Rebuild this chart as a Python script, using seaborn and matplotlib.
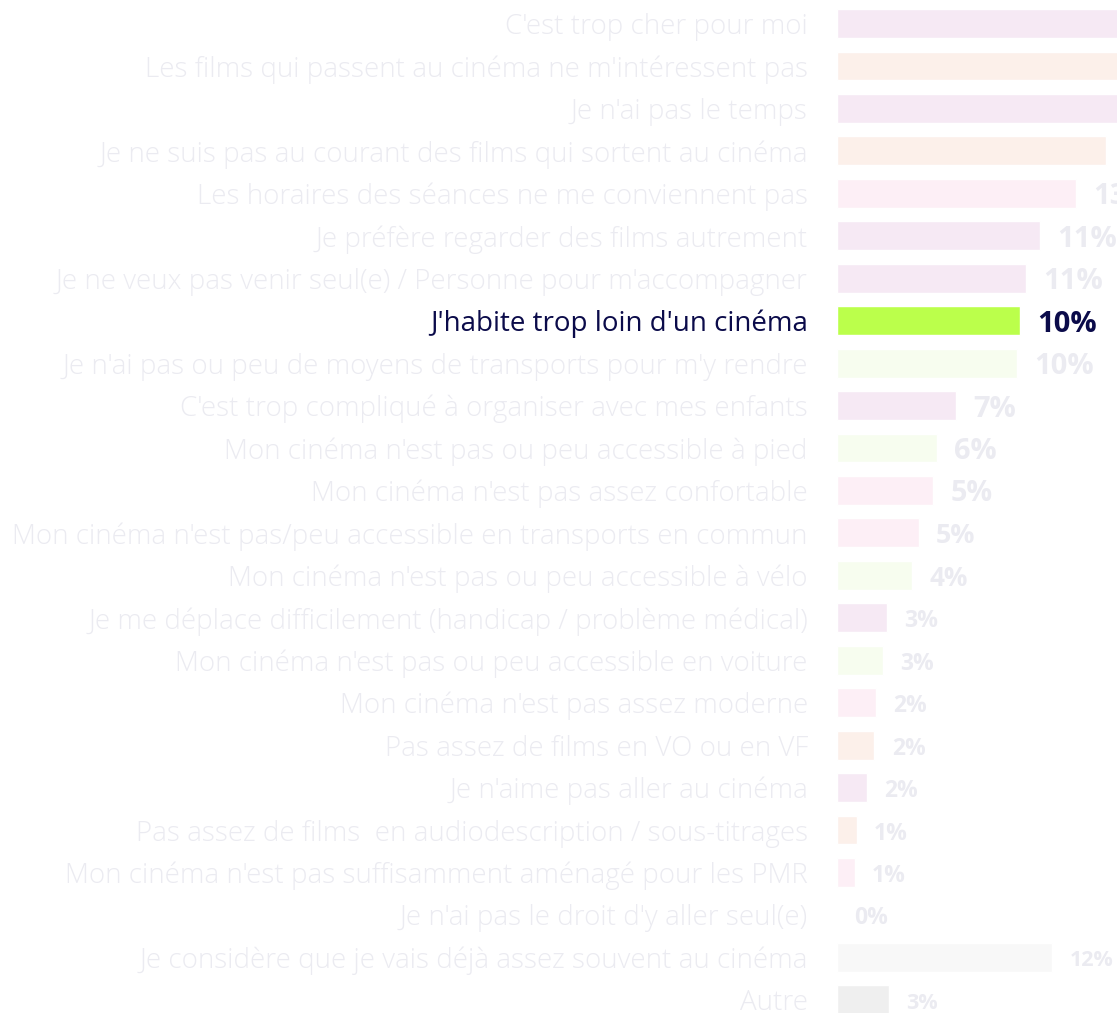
import numpy as np
import matplotlib
matplotlib.use("Agg")
import matplotlib.pyplot as plt
import seaborn as sns

# Reasons for not going to the cinema (share of respondents, %)
reasons = [
    "C'est trop cher pour moi",
    "Les films qui passent au cinéma ne m'intéressent pas",
    "Je n'ai pas le temps",
    "Je ne suis pas au courant des films qui sortent au cinéma",
    "Les horaires des séances ne me conviennent pas",
    "Je préfère regarder des films autrement",
    "Je ne veux pas venir seul(e) / Personne pour m'accompagner",
    "J'habite trop loin d'un cinéma",
    "Je n'ai pas ou peu de moyens de transports pour m'y rendre",
    "C'est trop compliqué à organiser avec mes enfants",
    "Mon cinéma n'est pas ou peu accessible à pied",
    "Mon cinéma n'est pas assez confortable",
    "Mon cinéma n'est pas/peu accessible en transports en commun",
    "Mon cinéma n'est pas ou peu accessible à vélo",
    "Je me déplace difficilement (handicap / problème médical)",
    "Mon cinéma n'est pas ou peu accessible en voiture",
    "Mon cinéma n'est pas assez moderne",
    "Pas assez de films en VO ou en VF",
    "Je n'aime pas aller au cinéma",
    "Pas assez de films  en audiodescription / sous-titrages",
    "Mon cinéma n'est pas suffisamment aménagé pour les PMR",
    "Je n'ai pas le droit d'y aller seul(e)",
    "Je considère que je vais déjà assez souvent au cinéma",
    "Autre",
]
shares = [18.5, 17.2, 16.4, 15.1, 13.4, 11.4, 10.6, 10.3, 10.1, 6.7, 5.6, 5.4,
          4.6, 4.2, 2.8, 2.6, 2.2, 2.1, 1.7, 1.1, 1.0, 0.0, 12.1, 2.9]
themes = ["perso", "offre", "perso", "offre", "pratique", "perso", "perso",
          "access", "access", "perso", "access", "pratique", "pratique",
          "access", "perso", "access", "pratique", "offre", "perso", "offre",
          "pratique", "none", "gris", "autre"]
highlight = "J'habite trop loin d'un cinéma"

theme_colors = {
    "perso": "#F6E9F4",
    "offre": "#FCF0EA",
    "pratique": "#FDEFF6",
    "access": "#F7FDEF",
    "none": "#FFFFFF",
    "gris": "#F8F8F8",
    "autre": "#EFEFEF",
}
LABEL_GREY = "#EBEBF1"
NAVY = "#0B0B4A"
GREEN = "#BBFF4B"

sns.set_theme(style="white")
plt.rcParams["font.family"] = ["Open Sans", "DejaVu Sans"]

fig = plt.figure(figsize=(11.17, 10.13), dpi=100)
W, H = 1117, 1013
pitch = 42.45
top_px = 23.5 - pitch / 2
ax = fig.add_axes([837 / W, 1 - (top_px + pitch * len(reasons)) / H,
                   280 / W, pitch * len(reasons) / H])

palette = {r: (GREEN if r == highlight else theme_colors[t])
           for r, t in zip(reasons, themes)}
sns.barplot(x=shares, y=reasons, hue=reasons, palette=palette, dodge=False,
            legend=False, width=0.68, saturation=1, ax=ax)

xmax = 280 / 17.8
ax.set_xlim(0, xmax)
ax.set_ylim(len(reasons) - 0.5, -0.5)
for s in ax.spines.values():
    s.set_visible(False)
ax.set_xticks([])
ax.set_xlabel("")
ax.set_ylabel("")
ax.grid(False)
ax.tick_params(axis="y", length=0, pad=21, labelsize=20)
for lbl in ax.get_yticklabels():
    if lbl.get_text() == highlight:
        lbl.set_color(NAVY)
    else:
        lbl.set_color(LABEL_GREY)
        lbl.set_fontweight("light")

# value labels at the end of each bar (those past the right edge are not shown)
for i, (r, v, t) in enumerate(zip(reasons, shares, themes)):
    if v > xmax - 1.0:
        continue
    if t in ("gris", "autre"):
        size = 15.5
    else:
        size = float(np.clip(12.5 + 1.5 * v, 16.5, 21))
    ax.annotate(f"{v:.0f}%", xy=(v, i), xytext=(12.5, -2.5),
                textcoords="offset points", ha="left", va="center",
                fontsize=size, fontweight="bold", annotation_clip=False,
                color=NAVY if r == highlight else LABEL_GREY)

fig.savefig("out.png", dpi=100)
